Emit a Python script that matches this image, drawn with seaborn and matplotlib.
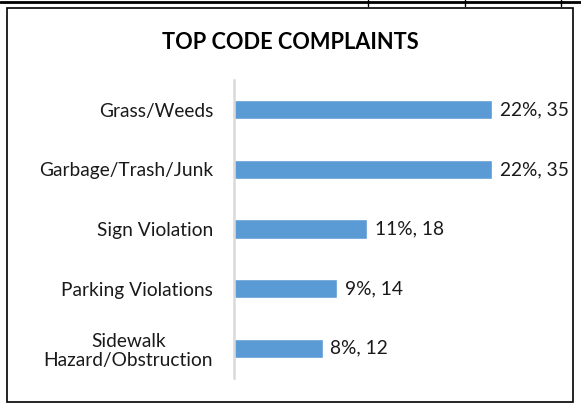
import numpy as np
import pandas as pd
import matplotlib.pyplot as plt
import seaborn as sns
from matplotlib.patches import Rectangle
from matplotlib.lines import Line2D

categories = ['Grass/Weeds', 'Garbage/Trash/Junk', 'Sign Violation',
              'Parking Violations', 'Sidewalk\nHazard/Obstruction']
counts = [35, 35, 18, 14, 12]
percents = [22, 22, 11, 9, 8]

data = pd.DataFrame({'category': categories, 'count': counts})

sns.set_style('white')
plt.rcParams['font.family'] = ['Lato', 'DejaVu Sans']

fig = plt.figure(figsize=(5.81, 4.09), dpi=100)
ax = fig.add_axes([0.4028, 0.0758, 0.5077, 0.7286])

sns.barplot(data=data, x='count', y='category', orient='h', color='#5B9BD5',
            saturation=1, width=0.32, ax=ax)

for i, (c, p) in enumerate(zip(counts, percents)):
    ax.text(c + 1.05, i, f'{p}%, {c}', va='center', ha='left', fontsize=13.8,
            color='#1a1a1a')

ax.set_xlim(0, 40)
ax.set_ylim(4.5, -0.5)
ax.set_xlabel('')
ax.set_ylabel('')
ax.set_xticks([])
ax.tick_params(axis='y', length=0, pad=15, labelsize=13.8, labelcolor='#1a1a1a')
for lbl in ax.get_yticklabels():
    lbl.set_multialignment('center')
    lbl.set_linespacing(1.15)
for s in ['top', 'right', 'bottom']:
    ax.spines[s].set_visible(False)
ax.spines['left'].set_color('#D9D9D9')
ax.spines['left'].set_linewidth(1.8)

fig.text(0.5, 0.895, 'TOP CODE COMPLAINTS', ha='center', va='center',
         fontsize=15.7, fontweight='bold', color='black')

# chart frame
fig.patches.append(Rectangle((7 / 581, 7 / 409), 566 / 581, 394 / 409,
                             transform=fig.transFigure, fill=False,
                             edgecolor='black', linewidth=1.2))
fig.lines.append(Line2D([0, 1], [1 - 2 / 409, 1 - 2 / 409],
                        transform=fig.transFigure, color='black', linewidth=2))
for xp in [368, 465, 561]:
    fig.lines.append(Line2D([xp / 581, xp / 581], [1, 1 - 6 / 409],
                            transform=fig.transFigure, color='black',
                            linewidth=1))

fig.savefig('out.png', dpi=100)
